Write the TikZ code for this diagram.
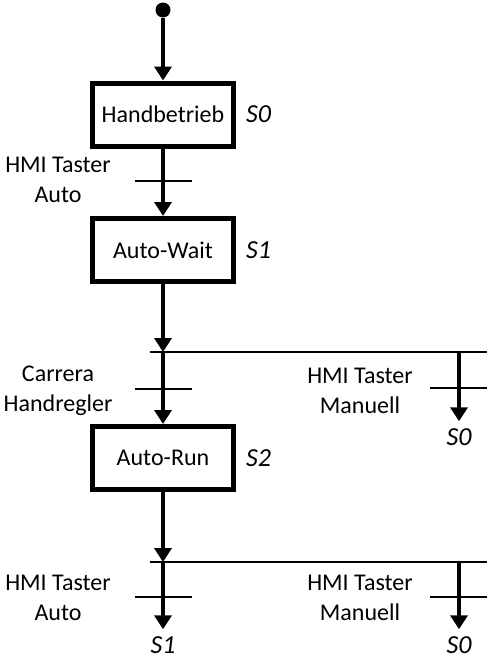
\documentclass[tikz,border=0pt]{standalone}
\usepackage{fontspec}
\setmainfont{Carlito}
\usetikzlibrary{arrows.meta,positioning}

\begin{document}
\begin{tikzpicture}[
  x=1pt, y=-1pt,
  every node/.style={font=\fontsize{24}{30}\selectfont},
  stp/.style ={draw, line width=5pt, minimum width=141pt, minimum height=63pt, inner sep=0pt},
  lbl/.style ={font=\fontsize{26}{30}\selectfont\itshape, inner sep=0pt},
  cond/.style={align=center, inner sep=0pt},
  fl/.style  ={-{Triangle[length=14pt,width=17pt]}, line width=4pt},
  jmp/.style ={fl, shorten >=7pt},
  bar/.style ={line width=2pt},
]
\useasboundingbox (0,0) rectangle (490,659);

%% ─── Steps ───────────────────────────────────────────────────────────────────
\node[circle, fill, minimum size=15pt, inner sep=0pt] (init) at (163,10) {};
\node[stp] (s0) at (163,114.5) {Handbetrieb};
\node[stp] (s1) at (163,250)   {Auto-Wait};
\node[stp] (s2) at (163,458)   {Auto-Run};

\node[lbl, right=10pt of s0] (n0) {S0};
\node[lbl, right=10pt of s1] (n1) {S1};
\node[lbl, right=10pt of s2] (n2) {S2};

%% ─── S0 -> S1 ────────────────────────────────────────────────────────────────
\draw[fl] (init) -- (s0);
\draw[fl] (s0) -- (s1);
\draw[bar] (135,181) -- (192,181);
\node[cond] (c0) at (58,180) {HMI Taster\\Auto};

%% ─── S1 -> branch ────────────────────────────────────────────────────────────
\coordinate (sp1)  at (163,352);
\coordinate (sp1l) at (150,352);
\coordinate (sp1r) at (487,352);
\coordinate (br1)  at (459,352);
\draw[fl] (s1) -- (sp1);
\draw[bar] (sp1l) -- (sp1r);

% left: S1 -> S2
\draw[fl] (sp1) -- (s2);
\draw[bar] (135,389) -- (192,389);
\node[cond] (c1) at (58,391) {Carrera\\Handregler};

% right: back to S0
\node[lbl] (j1) at (459,437) {S0};
\draw[jmp] (br1) -- (j1.north);
\draw[bar] (430,388) -- (487,388);
\node[cond] (c2) at (360,391) {HMI Taster\\Manuell};

%% ─── S2 -> branch ────────────────────────────────────────────────────────────
\coordinate (sp2)  at (163,562);
\coordinate (sp2l) at (150,562);
\coordinate (sp2r) at (487,562);
\coordinate (br2)  at (459,562);
\draw[fl] (s2) -- (sp2);
\draw[bar] (sp2l) -- (sp2r);

% left: back to S1
\node[lbl] (j2) at (163,645) {S1};
\draw[jmp] (sp2) -- (j2.north);
\draw[bar] (135,597) -- (192,597);
\node[cond] (c3) at (58,598) {HMI Taster\\Auto};

% right: back to S0
\node[lbl] (j3) at (459,645) {S0};
\draw[jmp] (br2) -- (j3.north);
\draw[bar] (430,597) -- (487,597);
\node[cond] (c4) at (360,598) {HMI Taster\\Manuell};

\end{tikzpicture}
\end{document}
